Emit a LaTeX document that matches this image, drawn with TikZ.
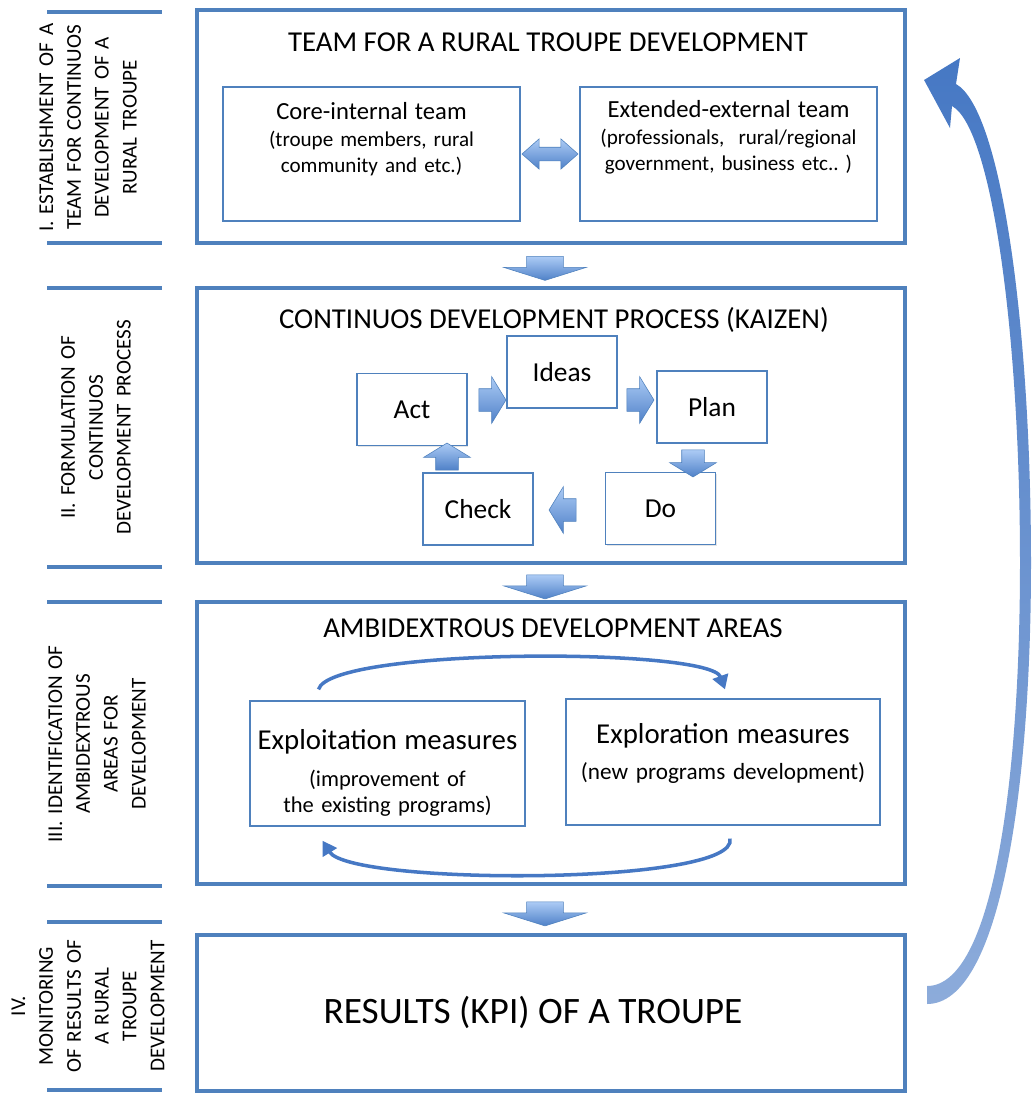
\documentclass[tikz,border=0pt]{standalone}
\usepackage{fontspec}
\setmainfont{Carlito}
\usetikzlibrary{arrows.meta,positioning,calc,shapes.arrows,shadows}
\definecolor{boxblue}{RGB}{79,129,189}
\definecolor{arrowlight}{RGB}{172,203,245}
\definecolor{arrowdark}{RGB}{79,129,200}
\definecolor{loopblue}{RGB}{70,120,196}

\begin{document}
\begin{tikzpicture}[
  x=0.025cm, y=-0.025cm,
  every node/.style={align=center, inner sep=0pt},
  stage/.style={draw=boxblue, line width=2.8pt, fill=white, minimum width=17.7cm, minimum height=#1, drop shadow={shadow xshift=1.5pt, shadow yshift=-1.5pt, opacity=0.25}},
  stagetitle/.style={font=\fontsize{20.5}{24}\selectfont},
  sidelabel/.style={rotate=90, text width=#1, font=\fontsize{15}{19.8}\selectfont},
  sidebar/.style={draw=boxblue, line width=2.8pt},
  member/.style={draw=boxblue, line width=0.9pt, fill=white, font=\fontsize{15}{18.5}\selectfont, drop shadow={shadow xshift=1pt, shadow yshift=-1pt, opacity=0.2}},
  kaizenbox/.style={draw=boxblue, line width=0.9pt, fill=white, minimum width=2.75cm, minimum height=1.8cm, font=\fontsize{19.5}{23}\selectfont, drop shadow={shadow xshift=1pt, shadow yshift=-1pt, opacity=0.2}},
  blockarrow/.style={draw=boxblue, line width=0.4pt, top color=arrowlight, bottom color=arrowdark},
  flowdown/.style={blockarrow, single arrow, shape border rotate=270, inner xsep=0.45cm, inner ysep=0pt, minimum height=0.6cm, minimum width=2.05cm, single arrow head extend=0.575cm, single arrow tip angle=145},
  hcycle/.style={blockarrow, single arrow, shape border rotate=#1, inner ysep=0.275cm, inner xsep=0pt, minimum height=0.675cm, minimum width=1.15cm, single arrow head extend=0.3cm, single arrow tip angle=117},
  vcycle/.style={blockarrow, single arrow, shape border rotate=#1, inner xsep=0.275cm, inner ysep=0pt, minimum height=0.675cm, minimum width=1.15cm, single arrow head extend=0.3cm, single arrow tip angle=117},
  teamarrow/.style={blockarrow, double arrow, inner ysep=0.1625cm, inner xsep=0pt, minimum height=1.4cm, minimum width=0.75cm, double arrow head extend=0.21cm, double arrow tip angle=83},
  swaparrow/.style={draw=loopblue, line width=2.5pt, -{Triangle[length=0.35cm, width=0.4cm]}},
  feedback/.style={top color=loopblue, bottom color=loopblue!62!white}
]
\useasboundingbox (0,0) rectangle (1034,1094);

\node[stage=5.825cm] (team) at (551,126.5) {};
\node[stage=6.875cm] (kaizen) at (551,425.5) {};
\node[stage=7.05cm] (areas) at (551,743) {};
\node[stage=3.9cm] (results) at (551,1013) {};

\node[stagetitle] (teamtitle) at (548,42) {TEAM FOR A RURAL TROUPE DEVELOPMENT};
\node[stagetitle] (kaizentitle) at (554,320) {CONTINUOS DEVELOPMENT PROCESS (KAIZEN)};
\node[stagetitle] (areastitle) at (553,628) {AMBIDEXTROUS DEVELOPMENT AREAS};
\node[font=\fontsize{26.5}{30}\selectfont] (resultstext) at (533,1012) {RESULTS (KPI) OF A TROUPE};

\node[member, text width=7.425cm, text height=0.825cm, text depth=2.525cm] (core) at (371.5,154) {{\fontsize{17.5}{20}\selectfont Core-internal team}\\(troupe members, rural\\community and etc.)};
\node[member, text width=7.425cm, text height=0.775cm, text depth=2.575cm] (extended) at (728.5,154) {{\fontsize{17.5}{20}\selectfont Extended-external team}\\(professionals,~ rural/regional\\government, business etc..~)};
\node[teamarrow] (link) at ($(core.east)!0.5!(extended.west)$) {};

\node[kaizenbox] (ideas) at (562,372) {Ideas};
\node[kaizenbox] (act) at (412,409.5) {Act};
\node[kaizenbox] (plan) at (712,407) {Plan};
\node[kaizenbox] (check) at (478,509) {Check};
\node[kaizenbox] (do) at (660.5,508.5) {Do};
\node[hcycle=0] (actideas) at (489,400) {};
\node[hcycle=0] (ideasplan) at (637,400) {};
\node[vcycle=270] (plando) at (693,460) {};
\node[hcycle=180] (docheck) at (566,510) {};
\node[vcycle=90] (checkact) at (447,460) {};

\node[member, font=\fontsize{16}{18.5}\selectfont, text width=6.875cm, text height=1.2cm, text depth=1.925cm] (exploit) at (387.5,763.5) {{\fontsize{20.5}{24}\selectfont Exploitation measures}\\[8.5pt](improvement of\\the existing programs)};
\node[member, font=\fontsize{16.5}{19}\selectfont, text width=7.85cm, text height=1.1cm, text depth=2.05cm] (explore) at (723,762) {{\fontsize{20.5}{24}\selectfont Exploration measures}\\[7pt](new programs development)};
\draw[swaparrow] ($(exploit.north)+(-69,-11)$) .. controls +(12,-42) and +(-15,-42) .. ($(explore.north)+(2,-9)$);
\draw[swaparrow] ($(explore.south)+(7,13)$) .. controls +(10,47) and +(28,45) .. ($(exploit.south)+(-65,14)$);

\node[flowdown] (down1) at (545,265.5) {};
\node[flowdown] (down2) at (545,584) {};
\node[flowdown] (down3) at (545,911) {};

\path[feedback] ($(results.east)+(20,-9)$) .. controls (1000,1004) and (1031,790) .. (1031,563)
  .. controls (1031,330) and (1002,110) .. (956,84) -- (960,58) -- ($(team.east)+(17,-46.5)$) -- (950,128) -- (952,106)
  .. controls (992,128) and (1020,335) .. (1020,563) .. controls (1020,785) and (992,986) .. ($(results.east)+(20,-27)$) -- cycle;

\coordinate (barL) at (47,0);
\coordinate (barR) at (162,0);
\node[sidelabel=5.775cm] (labI) at (88,127.5) {I. ESTABLISHMENT OF A\\TEAM FOR CONTINUOS\\DEVELOPMENT OF A\\RURAL TROUPE};
\node[sidelabel=6.975cm] (labII) at (96,427.5) {II. FORMULATION OF\\CONTINUOS\\DEVELOPMENT PROCESS};
\node[sidelabel=7.1cm] (labIII) at (97,744) {III. IDENTIFICATION OF\\AMBIDEXTROUS\\AREAS FOR\\DEVELOPMENT};
\node[sidelabel=4.2cm] (labIV) at (88,1006) {IV.\\MONITORING\\OF RESULTS OF\\A RURAL\\TROUPE\\DEVELOPMENT};
\foreach \lab in {labI,labII,labIII,labIV} {
  \draw[sidebar] (\lab.east -| barL) -- (\lab.east -| barR);
  \draw[sidebar] (\lab.west -| barL) -- (\lab.west -| barR);
}
\end{tikzpicture}
\end{document}
